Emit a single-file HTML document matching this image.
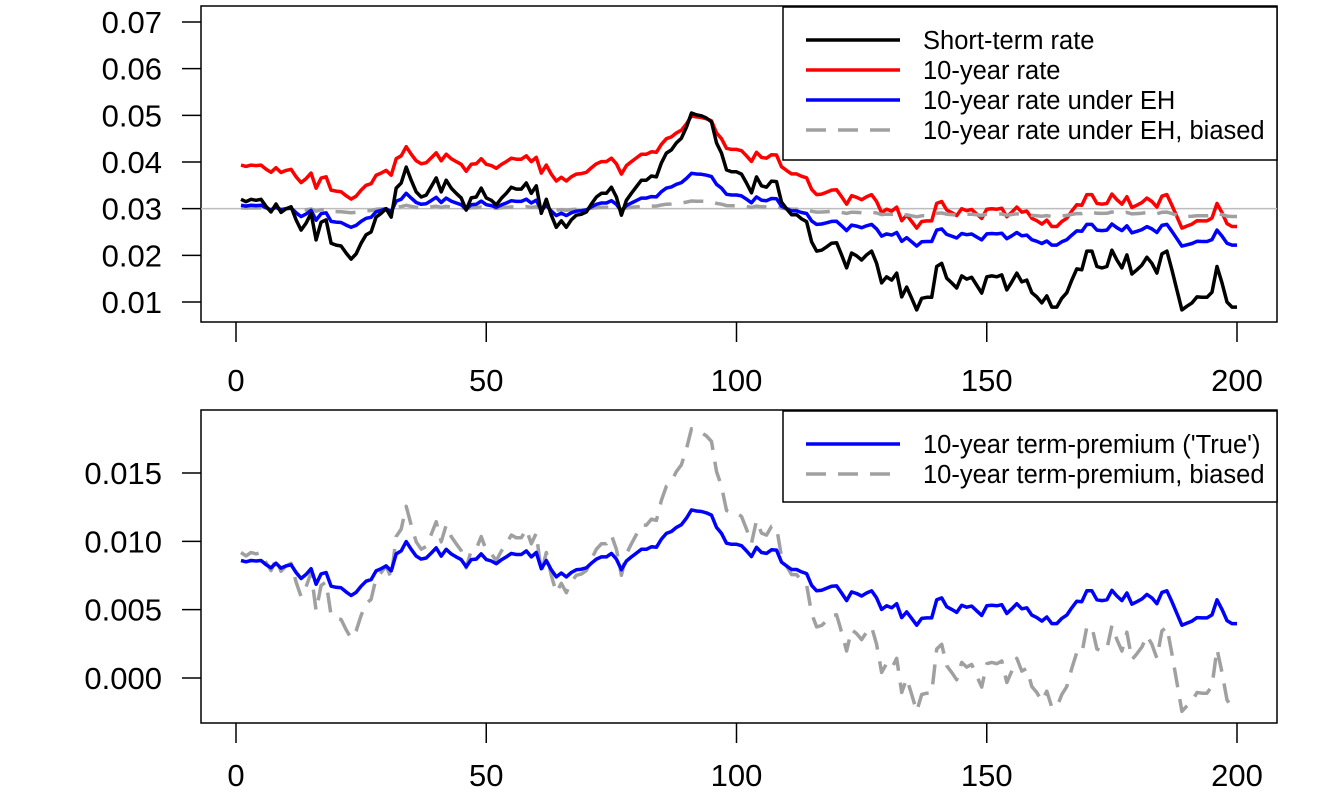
<!DOCTYPE html>
<html><head><meta charset="utf-8">
<style>
html,body{margin:0;padding:0;background:#fff;}
svg{display:block;font-family:"Liberation Sans",Arial,sans-serif;}
</style></head>
<body>
<svg id="chart" width="1344" height="806" viewBox="0 0 1344 806"></svg>
<script>
// ---- data ----
const periods = Array.from({length:200},(_,i)=>i+1);
const shortRate = [
0.032,0.0315,0.032,0.0318,0.032,0.0305,0.0293,0.031,0.0292,0.030,
0.0304,0.0276,0.0254,0.0269,0.029,0.0233,0.0271,0.0276,0.0226,0.0222,
0.022,0.0205,0.0192,0.0203,0.0226,0.0244,0.025,0.0282,0.029,0.030,
0.0282,0.0344,0.0355,0.0389,0.0361,0.0336,0.0325,0.0329,0.0347,0.0366,
0.0336,0.0361,0.0344,0.0333,0.0323,0.0297,0.0323,0.0325,0.0344,0.0323,
0.0318,0.0308,0.0322,0.0333,0.0346,0.0342,0.0342,0.0355,0.0333,0.0349,
0.029,0.032,0.0286,0.026,0.0274,0.026,0.0276,0.0286,0.0288,0.0293,
0.031,0.0325,0.0333,0.0333,0.0346,0.0325,0.0286,0.0318,0.0333,0.0347,
0.0361,0.0361,0.037,0.0368,0.0398,0.0419,0.0426,0.0441,0.0451,0.0475,
0.0505,0.0501,0.0499,0.0494,0.0486,0.0441,0.0419,0.0383,0.0379,0.0379,
0.0374,0.0355,0.0334,0.0368,0.0349,0.0346,0.0359,0.0358,0.0314,0.030,
0.0287,0.0287,0.0278,0.0272,0.0229,0.0209,0.0211,0.0218,0.0226,0.0227,
0.0201,0.0173,0.0205,0.0199,0.019,0.0201,0.0209,0.0183,0.0141,0.0154,
0.0147,0.0162,0.0111,0.0132,0.0108,0.0083,0.0108,0.011,0.011,0.0176,
0.0183,0.0151,0.0141,0.013,0.0156,0.0149,0.0153,0.0136,0.0119,0.0154,
0.0156,0.0154,0.0158,0.0126,0.0143,0.0162,0.0143,0.0147,0.012,0.0111,
0.0098,0.0113,0.0089,0.0089,0.0108,0.012,0.0147,0.0171,0.0169,0.0209,
0.0209,0.0176,0.0173,0.0176,0.0211,0.019,0.0173,0.0201,0.016,0.0169,
0.0179,0.0196,0.0183,0.0162,0.0203,0.0209,0.0169,0.0126,0.0083,0.0091,
0.0098,0.0111,0.011,0.011,0.0121,0.0176,0.0141,0.010,0.0089,0.0089];
const meanRate = 0.03;
const ehLoading = 0.37;
const biasedLoading = 0.08;
const termPremiumMean = 0.0082;
const termPremiumLoading = 0.2;
const xTicks = [0,50,100,150,200];
const topYTicks = [0.01,0.02,0.03,0.04,0.05,0.06,0.07];
const topYLabels = ["0.01","0.02","0.03","0.04","0.05","0.06","0.07"];
const botYTicks = [0,0.005,0.01,0.015];
const botYLabels = ["0.000","0.005","0.010","0.015"];

const ehRate = shortRate.map(s=>meanRate+ehLoading*(s-meanRate));
const ehBiased = shortRate.map(s=>meanRate+biasedLoading*(s-meanRate));
const termPremium = shortRate.map(s=>termPremiumMean+termPremiumLoading*(s-meanRate));
const tenYear = ehRate.map((e,i)=>e+termPremium[i]);
const termPremiumBiased = tenYear.map((r,i)=>r-ehBiased[i]);

// ---- drawing ----
const svgEl = document.getElementById('chart');
const NS='http://www.w3.org/2000/svg';
function mk(tag,attrs,parent){const e=document.createElementNS(NS,tag);for(const k in attrs)e.setAttribute(k,attrs[k]);(parent||svgEl).appendChild(e);return e;}
const xScale = v => 236 + v*(1237-236)/200;
const topY = v => 302 - (v-0.01)*(280/0.06);
const botY = v => 678 - v*(205/0.015);

function panel(name, box, yFn, yTicks, yLabels, xLabelY){
  const g = mk('g',{});
  
  
  const r = mk('rect',{x:box.x,y:box.y,width:box.w,height:box.h,fill:'none',stroke:'#000','stroke-width':1.5},g);
  
  
  yTicks.forEach((t,i)=>{
    const y=yFn(t);
    mk('line',{x1:182,x2:box.x,y1:y,y2:y,stroke:'#000','stroke-width':1.5},g);
    const tx=mk('text',{x:162,y:y+11,'text-anchor':'end','font-size':31,fill:'#000'},g);
    tx.textContent=yLabels[i];
    
    
  });
  xTicks.forEach(t=>{
    const x=xScale(t);
    mk('line',{x1:x,x2:x,y1:box.y+box.h,y2:box.y+box.h+20,stroke:'#000','stroke-width':1.5},g);
    const tx=mk('text',{x:x,y:xLabelY,'text-anchor':'middle','font-size':31,fill:'#000'},g);
    tx.textContent=String(t);
    
    
  });
  return g;
}
function series(g,name,vals,yFn,color,dash){
  const d=vals.map((v,i)=>(i?'L':'M')+xScale(periods[i]).toFixed(1)+','+yFn(v).toFixed(1)).join('');
  const p=mk('path',{d:d,fill:'none',stroke:color,'stroke-width':3.5,'stroke-linejoin':'round'},g);
  if(dash)p.setAttribute('stroke-dasharray',dash);
  
  
}
function legend(g,name,box,items){
  const lg=mk('g',{},g);
  
  
  mk('rect',{x:box.x,y:box.y,width:box.w,height:box.h,fill:'#fff',stroke:'#000','stroke-width':1.5},lg);
  items.forEach((it,i)=>{
    const y=box.y+33+i*30;
    const l=mk('line',{x1:806,x2:900,y1:y,y2:y,stroke:it.c,'stroke-width':3.5},lg);
    if(it.dash)l.setAttribute('stroke-dasharray','20,12');
    const t=mk('text',{x:923,y:y+9,'font-size':25.5,fill:'#000'},lg);
    t.textContent=it.t;
    
    
  });
}

const topPanel = panel('top-panel',{x:201,y:6,w:1076,h:316},topY,topYTicks,topYLabels,391);
const refLine = mk('line',{x1:201,x2:1277,y1:topY(meanRate),y2:topY(meanRate),stroke:'#bdbdbd','stroke-width':1.5},topPanel);


series(topPanel,'ten-year-rate-line',tenYear,topY,'#ff0000');
series(topPanel,'eh-biased-line',ehBiased,topY,'#a0a0a0','20,12');
series(topPanel,'eh-rate-line',ehRate,topY,'#0000ff');
series(topPanel,'short-rate-line',shortRate,topY,'#000000');
legend(topPanel,'top-legend',{x:783,y:7,w:494,h:153},[
 {t:'Short-term rate',c:'#000'},{t:'10-year rate',c:'#ff0000'},
 {t:'10-year rate under EH',c:'#0000ff'},{t:'10-year rate under EH, biased',c:'#a0a0a0',dash:1}]);

const botPanel = panel('bottom-panel',{x:201,y:410,w:1076,h:313},botY,botYTicks,botYLabels,786);
series(botPanel,'term-premium-biased-line',termPremiumBiased,botY,'#a0a0a0','20,12');
series(botPanel,'term-premium-line',termPremium,botY,'#0000ff');
legend(botPanel,'bottom-legend',{x:783,y:411,w:494,h:91},[
 {t:"10-year term-premium ('True')",c:'#0000ff'},{t:'10-year term-premium, biased',c:'#a0a0a0',dash:1}]);
</script>
</body></html>
